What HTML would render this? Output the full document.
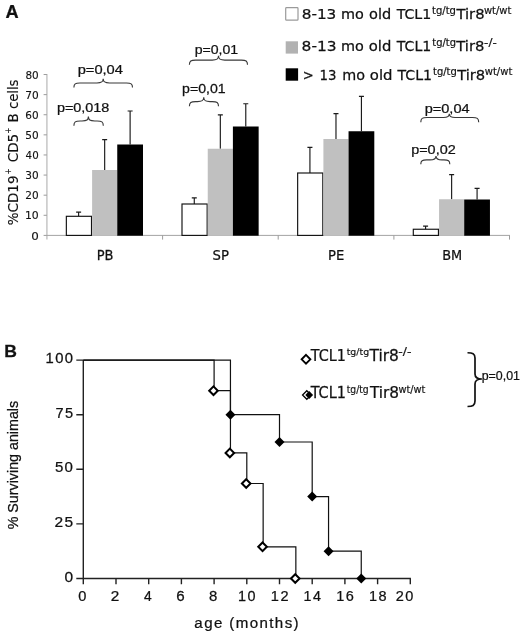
<!DOCTYPE html>
<html lang="en"><head><meta charset="utf-8"><title>Figure</title>
<style>
html,body{margin:0;padding:0;background:#fff;}
body{width:520px;height:636px;overflow:hidden;}
svg{display:block;filter:blur(0.3px);}
.dv{font-family:"DejaVu Sans", "Liberation Sans", sans-serif;}
.ls{font-family:"Liberation Sans", "DejaVu Sans", sans-serif;}
text{fill:#111;stroke:#111;stroke-width:0.25px;}
.thin{stroke-width:0.12px;}
</style></head><body>
<svg width="520" height="636" viewBox="0 0 520 636">
<rect width="520" height="636" fill="#fff"/>
<text transform="translate(5.43 17.80) scale(1.0346 1)" font-size="17.6" class="ls" font-weight="bold" fill="#000">A</text>
<path d="M46.9 74.02 V239.6" fill="none" stroke="#c6c6c6" stroke-width="1.5"/>
<path d="M46.9 235.4 H510" fill="none" stroke="#a4a4a4" stroke-width="1"/>
<path d="M43.6 235.40H46.9M43.6 215.29H46.9M43.6 195.18H46.9M43.6 175.07H46.9M43.6 154.96H46.9M43.6 134.85H46.9M43.6 114.74H46.9M43.6 94.63H46.9M43.6 74.52H46.9M162.6 235.4V239.6M278.2 235.4V239.6M393.9 235.4V239.6M509.5 235.4V239.6" fill="none" stroke="#9c9c9c" stroke-width="1"/>
<text transform="translate(31.21 239.50) scale(1.1338 1)" font-size="10.5" class="dv thin" fill="#222">0</text>
<text transform="translate(24.91 219.39) scale(1.0341 1)" font-size="10.5" class="dv thin" fill="#222">10</text>
<text transform="translate(25.32 199.28) scale(1.0012 1)" font-size="10.5" class="dv thin" fill="#222">20</text>
<text transform="translate(25.30 179.17) scale(1.0029 1)" font-size="10.5" class="dv thin" fill="#222">30</text>
<text transform="translate(25.61 159.06) scale(0.9787 1)" font-size="10.5" class="dv thin" fill="#222">40</text>
<text transform="translate(25.28 138.95) scale(1.0047 1)" font-size="10.5" class="dv thin" fill="#222">50</text>
<text transform="translate(25.37 118.84) scale(0.9977 1)" font-size="10.5" class="dv thin" fill="#222">60</text>
<text transform="translate(25.23 98.73) scale(1.0083 1)" font-size="10.5" class="dv thin" fill="#222">70</text>
<text transform="translate(25.39 78.62) scale(0.9959 1)" font-size="10.5" class="dv thin" fill="#222">80</text>
<text transform="translate(18.10 225.15) rotate(-90) scale(0.9956 1)" font-size="13.5" class="dv thin" fill="#111">%CD19</text>
<text transform="translate(10.90 174.38) rotate(-90) scale(0.7735 1)" font-size="9.5" class="dv thin" fill="#111">+</text>
<text transform="translate(18.10 162.25) rotate(-90) scale(0.9977 1)" font-size="13.5" class="dv thin" fill="#111">CD5</text>
<text transform="translate(10.70 133.78) rotate(-90) scale(0.7735 1)" font-size="9.5" class="dv thin" fill="#111">+</text>
<text transform="translate(18.10 122.56) rotate(-90) scale(0.9939 1)" font-size="13.5" class="dv thin" fill="#111">B</text>
<text transform="translate(18.10 109.04) rotate(-90) scale(0.9745 1)" font-size="13.5" class="dv thin" fill="#111">cells</text>
<path d="M78.62 216.3V211.8M76.12 212.10000000000002H81.12" stroke="#1a1a1a" stroke-width="1.15" fill="none"/>
<rect x="66.35" y="216.3" width="25.15" height="19.10" fill="#fff" stroke="#111" stroke-width="1.15"/>
<path d="M104.67 170V139.25M102.17 139.55H107.17" stroke="#1a1a1a" stroke-width="1.15" fill="none"/>
<rect x="92.10" y="170" width="25.15" height="65.70" fill="#c0c0c0"/>
<path d="M130.12 144.5V110.7M127.62 111.0H132.62" stroke="#1a1a1a" stroke-width="1.15" fill="none"/>
<rect x="117.25" y="144.5" width="25.75" height="91.20" fill="#000"/>
<path d="M194.28 204V197.5M191.78 197.8H196.78" stroke="#1a1a1a" stroke-width="1.15" fill="none"/>
<rect x="182.00" y="204" width="25.15" height="31.40" fill="#fff" stroke="#111" stroke-width="1.15"/>
<path d="M220.33 148.75V114.5M217.83 114.8H222.83" stroke="#1a1a1a" stroke-width="1.15" fill="none"/>
<rect x="207.75" y="148.75" width="25.15" height="86.95" fill="#c0c0c0"/>
<path d="M245.78 126.5V103.4M243.28 103.7H248.28" stroke="#1a1a1a" stroke-width="1.15" fill="none"/>
<rect x="232.90" y="126.5" width="25.75" height="109.20" fill="#000"/>
<path d="M309.93 173V147M307.43 147.3H312.43" stroke="#1a1a1a" stroke-width="1.15" fill="none"/>
<rect x="297.65" y="173" width="25.15" height="62.40" fill="#fff" stroke="#111" stroke-width="1.15"/>
<path d="M335.98 139V113.25M333.48 113.55H338.48" stroke="#1a1a1a" stroke-width="1.15" fill="none"/>
<rect x="323.40" y="139" width="25.15" height="96.70" fill="#c0c0c0"/>
<path d="M361.43 131.25V96M358.93 96.3H363.93" stroke="#1a1a1a" stroke-width="1.15" fill="none"/>
<rect x="348.55" y="131.25" width="25.75" height="104.45" fill="#000"/>
<path d="M425.58 229.25V225.75M423.08 226.05H428.08" stroke="#1a1a1a" stroke-width="1.15" fill="none"/>
<rect x="413.30" y="229.25" width="25.15" height="6.15" fill="#fff" stroke="#111" stroke-width="1.15"/>
<path d="M451.63 199.25V174.25M449.13 174.55H454.13" stroke="#1a1a1a" stroke-width="1.15" fill="none"/>
<rect x="439.05" y="199.25" width="25.15" height="36.45" fill="#c0c0c0"/>
<path d="M477.08 199.5V188M474.58 188.3H479.58" stroke="#1a1a1a" stroke-width="1.15" fill="none"/>
<rect x="464.20" y="199.5" width="25.75" height="36.20" fill="#000"/>
<text transform="translate(96.72 259.60) scale(0.9639 1)" font-size="13.5" class="dv" fill="#111">PB</text>
<text transform="translate(212.53 259.60) scale(0.9781 1)" font-size="13.5" class="dv" fill="#111">SP</text>
<text transform="translate(328.11 259.60) scale(0.9725 1)" font-size="13.5" class="dv" fill="#111">PE</text>
<text transform="translate(442.13 259.60) scale(0.9574 1)" font-size="13.5" class="dv" fill="#111">BM</text>
<text transform="translate(77.71 74.00) scale(1.0937 1)" font-size="13.4" class="ls" fill="#000">p=0,04</text>
<path d="M73.9 87.5 C73.9 83.8 75.4 83 79.9 83 L96.95 83 C101.7 83 103.2 82 103.2 78.75 C103.2 82 104.7 83 109.45 83 L126.5 83 C131.0 83 132.5 83.8 132.5 87.5" fill="none" stroke="#383838" stroke-width="1.15"/>
<text transform="translate(56.88 112.30) scale(1.0770 1)" font-size="13.4" class="ls" fill="#000">p=0,018</text>
<path d="M73.9 125.8 C73.9 121.8 75.4 121 80.2 121 L82.0 121 C86.9 121 88.4 120 88.4 116.6 C88.4 120 89.9 121 94.80000000000001 121 L97.0 121 C101.8 121 103.3 121.8 103.3 125.8" fill="none" stroke="#383838" stroke-width="1.15"/>
<text transform="translate(194.70 54.40) scale(1.0514 1)" font-size="13.4" class="ls" fill="#000">p=0,01</text>
<path d="M189.4 64.8 C189.4 60.9 190.9 60.1 195.6 60.1 L212.2 60.1 C217.0 60.1 218.5 59.1 218.5 55.8 C218.5 59.1 220.0 60.1 224.8 60.1 L241.3 60.1 C246.0 60.1 247.5 60.9 247.5 64.8" fill="none" stroke="#383838" stroke-width="1.15"/>
<text transform="translate(182.10 92.60) scale(1.0539 1)" font-size="13.4" class="ls" fill="#000">p=0,01</text>
<path d="M189.4 106.3 C189.4 102.39999999999999 190.9 101.6 195.60000000000002 101.6 L197.45 101.6 C202.25 101.6 203.75 100.6 203.75 97.3 C203.75 100.6 205.25 101.6 210.05 101.6 L212.3 101.6 C217.0 101.6 218.5 102.39999999999999 218.5 106.3" fill="none" stroke="#383838" stroke-width="1.15"/>
<text transform="translate(424.67 112.65) scale(1.0875 1)" font-size="13.4" class="ls" fill="#000">p=0,04</text>
<path d="M420.8 122.3 C420.8 118.3 422.3 117.5 427.1 117.5 L443.5 117.5 C447.8 117.5 449.3 116.5 449.3 113.7 C449.3 116.5 450.8 117.5 455.1 117.5 L472.4 117.5 C477.2 117.5 478.7 118.3 478.7 122.3" fill="none" stroke="#383838" stroke-width="1.15"/>
<text transform="translate(411.18 154.40) scale(1.0772 1)" font-size="13.4" class="ls" fill="#000">p=0,02</text>
<path d="M420.8 164.2 C420.8 160.70000000000002 422.3 159.9 426.6 159.9 L430.0 159.9 C434.5 159.9 436 158.9 436 155.9 C436 158.9 437.5 159.9 442.0 159.9 L444.0 159.9 C448.3 159.9 449.8 160.70000000000002 449.8 164.2" fill="none" stroke="#383838" stroke-width="1.15"/>
<rect x="285.7" y="7.7" width="12.3" height="12.5" rx="0.8" fill="#fff" stroke="#9a9a9a" stroke-width="1.2"/>
<rect x="285.7" y="41.3" width="12.3" height="12.3" fill="#b2b2b2"/>
<rect x="285.7" y="68.3" width="12.4" height="12.4" fill="#000"/>
<g>
<text transform="translate(301.66 18.50) scale(1.0333 1)" font-size="14.8" class="dv" fill="#111">8-13</text>
<text transform="translate(341.00 18.50) scale(0.9746 1)" font-size="14.8" class="dv" fill="#111">mo</text>
<text transform="translate(368.99 18.50) scale(0.9831 1)" font-size="14.8" class="dv" fill="#111">old</text>
<text transform="translate(396.63 18.50) scale(0.9587 1)" font-size="14.8" class="dv" fill="#111">TCL1</text>
<text transform="translate(432.04 13.50) scale(1.0444 1)" font-size="9.6" class="dv" fill="#111" style="stroke-width:0.18px">tg/tg</text>
<text transform="translate(456.43 18.50) scale(0.9988 1)" font-size="14.8" class="dv" fill="#111">Tir8</text>
<text transform="translate(483.98 13.50) scale(1.0378 1)" font-size="9.6" class="dv" fill="#111" style="stroke-width:0.18px">wt/wt</text>
</g>
<g>
<text transform="translate(301.55 50.75) scale(1.0444 1)" font-size="14.8" class="dv" fill="#111">8-13</text>
<text transform="translate(341.00 50.75) scale(0.9746 1)" font-size="14.8" class="dv" fill="#111">mo</text>
<text transform="translate(368.77 50.75) scale(1.0003 1)" font-size="14.8" class="dv" fill="#111">old</text>
<text transform="translate(396.73 50.75) scale(0.9558 1)" font-size="14.8" class="dv" fill="#111">TCL1</text>
<text transform="translate(432.24 45.75) scale(1.0353 1)" font-size="9.6" class="dv" fill="#111" style="stroke-width:0.18px">tg/tg</text>
<text transform="translate(456.23 50.75) scale(1.0025 1)" font-size="14.8" class="dv" fill="#111">Tir8</text>
<text transform="translate(484.12 45.75) scale(1.1771 1)" font-size="10.2" class="dv" fill="#111" style="stroke-width:0.18px">-/-</text>
</g>
<g>
<text transform="translate(302.81 79.70) scale(0.8851 1)" font-size="14.8" class="dv" fill="#111">&gt;</text>
<text transform="translate(319.54 79.70) scale(0.8992 1)" font-size="14.8" class="dv" fill="#111">13</text>
<text transform="translate(342.21 79.70) scale(0.9699 1)" font-size="14.8" class="dv" fill="#111">mo</text>
<text transform="translate(369.87 79.70) scale(1.0052 1)" font-size="14.8" class="dv" fill="#111">old</text>
<text transform="translate(397.53 79.70) scale(0.9544 1)" font-size="14.8" class="dv" fill="#111">TCL1</text>
<text transform="translate(432.99 74.70) scale(1.0375 1)" font-size="9.6" class="dv" fill="#111" style="stroke-width:0.18px">tg/tg</text>
<text transform="translate(457.13 79.70) scale(0.9970 1)" font-size="14.8" class="dv" fill="#111">Tir8</text>
<text transform="translate(484.78 74.70) scale(1.0417 1)" font-size="9.6" class="dv" fill="#111" style="stroke-width:0.18px">wt/wt</text>
</g>
<text transform="translate(4.34 357.20) scale(1.0441 1)" font-size="16.8" class="ls" font-weight="bold" fill="#000">B</text>
<path d="M83.3 360.10V578.5M76.3 578.5H410.9" fill="none" stroke="#222" stroke-width="1.4"/>
<path d="M76.3 523.90H83.3M76.3 469.30H83.3M76.3 414.70H83.3M76.3 360.10H83.3M83.30 578.5V584.2M116.00 578.5V584.2M148.70 578.5V584.2M181.40 578.5V584.2M214.10 578.5V584.2M246.80 578.5V584.2M279.50 578.5V584.2M312.20 578.5V584.2M344.90 578.5V584.2M377.60 578.5V584.2M410.30 578.5V584.2" fill="none" stroke="#222" stroke-width="1.4"/>
<text transform="translate(64.38 581.50) scale(1.0902 1)" font-size="14.2" class="ls" letter-spacing="1.3" fill="#111">0</text>
<text transform="translate(54.43 526.90) scale(1.0897 1)" font-size="14.2" class="ls" letter-spacing="1.3" fill="#111">25</text>
<text transform="translate(54.90 472.30) scale(1.0574 1)" font-size="14.2" class="ls" letter-spacing="1.3" fill="#111">50</text>
<text transform="translate(55.49 417.70) scale(1.0250 1)" font-size="14.2" class="ls" letter-spacing="1.3" fill="#111">75</text>
<text transform="translate(45.58 363.10) scale(1.0419 1)" font-size="14.2" class="ls" letter-spacing="1.3" fill="#111">100</text>
<text transform="translate(78.31 600.60) scale(0.9571 1)" font-size="15.3" class="ls" fill="#111">0</text>
<text transform="translate(110.83 600.60) scale(1.0033 1)" font-size="15.3" class="ls" fill="#111">2</text>
<text transform="translate(143.99 600.60) scale(0.9078 1)" font-size="15.3" class="ls" fill="#111">4</text>
<text transform="translate(176.24 600.60) scale(0.9903 1)" font-size="15.3" class="ls" fill="#111">6</text>
<text transform="translate(209.04 600.60) scale(0.9776 1)" font-size="15.3" class="ls" fill="#111">8</text>
<text transform="translate(238.10 600.60) scale(0.9425 1)" font-size="15.3" class="ls" letter-spacing="1.6" fill="#111">10</text>
<text transform="translate(270.79 600.60) scale(0.9529 1)" font-size="15.3" class="ls" letter-spacing="1.6" fill="#111">12</text>
<text transform="translate(303.51 600.60) scale(0.9357 1)" font-size="15.3" class="ls" letter-spacing="1.6" fill="#111">14</text>
<text transform="translate(336.20 600.60) scale(0.9477 1)" font-size="15.3" class="ls" letter-spacing="1.6" fill="#111">16</text>
<text transform="translate(368.90 600.60) scale(0.9477 1)" font-size="15.3" class="ls" letter-spacing="1.6" fill="#111">18</text>
<text transform="translate(395.67 600.60) scale(0.9498 1)" font-size="15.3" class="ls" letter-spacing="1.6" fill="#111">20</text>
<text transform="translate(194.37 627.50) scale(0.9937 1)" font-size="15.2" class="ls" letter-spacing="1.4" fill="#111">age (months)</text>
<text transform="translate(17.90 529.31) rotate(-90) scale(0.9524 1)" font-size="15" class="ls" fill="#111">% Surviving animals</text>
<path d="M83.30 360.10H214.10V390.68H230.45V452.92H246.80V483.50H263.15V546.83H295.85V578.50" fill="none" stroke="#111" stroke-width="1.2"/>
<path d="M83.30 360.10H230.45V414.70H279.50V442.00H312.20V496.60H328.55V551.20H361.25V578.50" fill="none" stroke="#111" stroke-width="1.2"/>
<path d="M213.50 386.38L217.80 390.68L213.50 394.98L209.20 390.68Z" fill="#fff" stroke="#000" stroke-width="2.0"/>
<path d="M229.85 448.62L234.15 452.92L229.85 457.22L225.55 452.92Z" fill="#fff" stroke="#000" stroke-width="2.0"/>
<path d="M246.20 479.20L250.50 483.50L246.20 487.80L241.90 483.50Z" fill="#fff" stroke="#000" stroke-width="2.0"/>
<path d="M262.55 542.53L266.85 546.83L262.55 551.13L258.25 546.83Z" fill="#fff" stroke="#000" stroke-width="2.0"/>
<path d="M295.25 574.20L299.55 578.50L295.25 582.80L290.95 578.50Z" fill="#fff" stroke="#000" stroke-width="2.0"/>
<path d="M230.45 409.70L235.45 414.70L230.45 419.70L225.45 414.70Z" fill="#000"/>
<path d="M279.50 437.00L284.50 442.00L279.50 447.00L274.50 442.00Z" fill="#000"/>
<path d="M312.20 491.60L317.20 496.60L312.20 501.60L307.20 496.60Z" fill="#000"/>
<path d="M328.55 546.20L333.55 551.20L328.55 556.20L323.55 551.20Z" fill="#000"/>
<path d="M361.25 573.50L366.25 578.50L361.25 583.50L356.25 578.50Z" fill="#000"/>
<path d="M306.00 354.95L310.35 359.30L306.00 363.65L301.65 359.30Z" fill="#fff" stroke="#000" stroke-width="1.9"/>
<path d="M306.80 390.75L311.05 395.00L306.80 399.25L302.55 395.00Z" fill="#fff" stroke="#000" stroke-width="1.3"/>
<path d="M309.20 391.10L313.10 395.00L309.20 398.90L305.30 395.00Z" fill="#000"/>
<g>
<text transform="translate(310.73 360.70) scale(0.9509 1)" font-size="15.1" class="dv" fill="#111">TCL1</text>
<text transform="translate(346.66 355.40) scale(0.9803 1)" font-size="9.6" class="dv" fill="#111" style="stroke-width:0.18px">tg/tg</text>
<text transform="translate(369.53 360.70) scale(1.0222 1)" font-size="15.1" class="dv" fill="#111">Tir8</text>
<text transform="translate(398.30 355.40) scale(1.2474 1)" font-size="10" class="dv" fill="#111" style="stroke-width:0.18px">-/-</text>
</g>
<g>
<text transform="translate(310.63 398.40) scale(0.9565 1)" font-size="15.1" class="dv" fill="#111">TCL1</text>
<text transform="translate(346.66 393.10) scale(0.9620 1)" font-size="9.6" class="dv" fill="#111" style="stroke-width:0.18px">tg/tg</text>
<text transform="translate(369.93 398.40) scale(1.0150 1)" font-size="15.1" class="dv" fill="#111">Tir8</text>
<text transform="translate(398.39 393.10) scale(1.0223 1)" font-size="9.6" class="dv" fill="#111" style="stroke-width:0.18px">wt/wt</text>
</g>
<path d="M467.5 352.75 C472.5 352.75 475 353.5 475 358 L475 374 C475 377.5 478 379 481.9 379 C478 379 475 380.5 475 384 L475 401 C475 405.7 472.5 406.5 467.5 406.5" fill="none" stroke="#111" stroke-width="1.7"/>
<text transform="translate(481.71 380.00) scale(0.9471 1)" font-size="13.1" class="ls" fill="#000">p=0,01</text>
</svg>
</body></html>
